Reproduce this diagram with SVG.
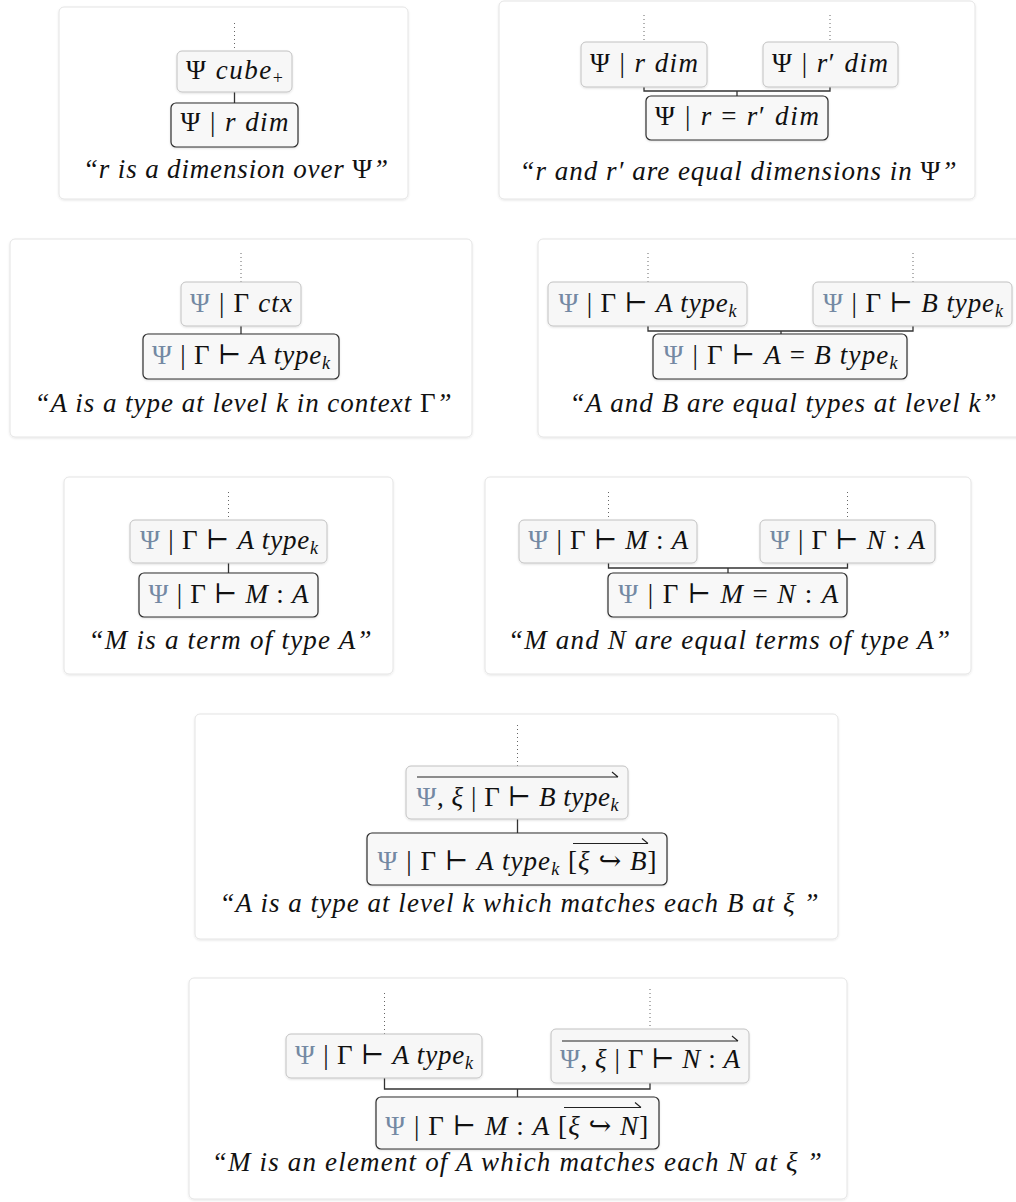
<svg xmlns="http://www.w3.org/2000/svg" width="1016" height="1202" viewBox="0 0 1016 1202">
<defs>
<filter id="sh" x="-10%" y="-10%" width="120%" height="120%">
<feDropShadow dx="0" dy="1" stdDeviation="1.2" flood-color="#000" flood-opacity="0.10"/>
</filter>
<filter id="nsh" x="-10%" y="-10%" width="120%" height="130%">
<feDropShadow dx="0" dy="1" stdDeviation="0.8" flood-color="#000" flood-opacity="0.12"/>
</filter>
</defs>
<style>
.panel{fill:#ffffff;stroke:#e4e4e4;stroke-width:1;filter:url(#sh)}
.prem{fill:#f7f7f7;stroke:#c2c2c2;stroke-width:1;filter:url(#nsh)}
.concl{fill:#f8f8f8;stroke:#2e2e2e;stroke-width:1.2;filter:url(#nsh)}
.conn{fill:none;stroke:#333;stroke-width:1.3}
.dot{fill:none;stroke:#666;stroke-width:1;stroke-dasharray:1 3}
.ovl{fill:none;stroke:#222;stroke-width:1.1}
.t{font-family:"Liberation Serif","DejaVu Serif",serif;font-size:27px;fill:#111;text-anchor:middle}
.i{font-style:italic}
.psi{fill:#7489a3;font-style:normal}
.up{font-style:normal}
.sub{font-size:18px}
</style>

<g id="panels">
<rect class="panel" x="59" y="7" width="349" height="192" rx="5"/>
<rect class="panel" x="499" y="1" width="476" height="198" rx="5"/>
<rect class="panel" x="10" y="239" width="462" height="198" rx="5"/>
<rect class="panel" x="538" y="239" width="500" height="198" rx="5"/>
<rect class="panel" x="64" y="477" width="329" height="197" rx="5"/>
<rect class="panel" x="485" y="477" width="486" height="197" rx="5"/>
<rect class="panel" x="195" y="714" width="643" height="225" rx="5"/>
<rect class="panel" x="189" y="978" width="658" height="221" rx="5"/>
</g>

<g id="connectors">
<path class="dot" d="M234.5 23V51"/>
<path class="conn" d="M234.5 92V103"/>
<path class="dot" d="M644 15V42M830 15V42"/>
<path class="conn" d="M644 87V91H830V87M737 91V96"/>
<path class="dot" d="M241 253V282"/>
<path class="conn" d="M241 326V334"/>
<path class="dot" d="M648 253V282M913 253V282"/>
<path class="conn" d="M648 326V331H913V326M781 331V334"/>
<path class="dot" d="M228.5 492V520"/>
<path class="conn" d="M228.5 563V573"/>
<path class="dot" d="M608.5 492V520M847.5 492V520"/>
<path class="conn" d="M608.5 563V568H847.5V563M728 568V573"/>
<path class="dot" d="M517.5 725V766"/>
<path class="conn" d="M517.5 819V833"/>
<path class="dot" d="M384.5 993V1034M650 989V1029"/>
<path class="conn" d="M384.5 1078V1089H650V1083M517.5 1089V1097"/>
</g>

<g id="n1a"><rect class="prem" x="177" y="51" width="115" height="41" rx="5"/>
<text class="t" x="234.5" y="79" textLength="97" lengthAdjust="spacing">Ψ <tspan class="i">cube</tspan><tspan class="sub" dy="5">+</tspan></text></g>
<g id="n1b"><rect class="concl" x="171" y="103" width="127" height="44" rx="5"/>
<text class="t" x="234.5" y="131" textLength="108" lengthAdjust="spacing">Ψ | <tspan class="i">r dim</tspan></text></g>
<g id="c1"><text class="t i" x="235.5" y="178" textLength="305" lengthAdjust="spacing">“r is a dimension over <tspan class="up">Ψ</tspan>”</text></g>

<g id="n2a"><rect class="prem" x="581" y="42" width="126" height="45" rx="5"/>
<text class="t" x="644" y="72" textLength="108" lengthAdjust="spacing">Ψ | <tspan class="i">r dim</tspan></text></g>
<g id="n2b"><rect class="prem" x="763" y="42" width="135" height="45" rx="5"/>
<text class="t" x="830" y="72" textLength="116" lengthAdjust="spacing">Ψ | <tspan class="i">r</tspan>′ <tspan class="i">dim</tspan></text></g>
<g id="n2c"><rect class="concl" x="646" y="96" width="182" height="44" rx="5"/>
<text class="t" x="737" y="125" textLength="164" lengthAdjust="spacing">Ψ | <tspan class="i">r</tspan> = <tspan class="i">r</tspan>′ <tspan class="i">dim</tspan></text></g>
<g id="c2"><text class="t i" x="738" y="180" textLength="437" lengthAdjust="spacing">“r and r′ are equal dimensions in <tspan class="up">Ψ</tspan>”</text></g>

<g id="n3a"><rect class="prem" x="181" y="282" width="120" height="44" rx="5"/>
<text class="t" x="241" y="312" textLength="102" lengthAdjust="spacing"><tspan class="psi">Ψ</tspan> | Γ <tspan class="i">ctx</tspan></text></g>
<g id="n3b"><rect class="concl" x="143" y="334" width="196" height="45" rx="5"/>
<text class="t" x="241" y="364" textLength="178" lengthAdjust="spacing"><tspan class="psi">Ψ</tspan> | Γ ⊢ <tspan class="i">A type</tspan><tspan class="i sub" dy="5">k</tspan></text></g>
<g id="c3"><text class="t i" x="243" y="412" textLength="417" lengthAdjust="spacing">“A is a type at level k in context <tspan class="up">Γ</tspan>”</text></g>

<g id="n4a"><rect class="prem" x="548" y="282" width="199" height="44" rx="5"/>
<text class="t" x="647.5" y="312" textLength="178" lengthAdjust="spacing"><tspan class="psi">Ψ</tspan> | Γ ⊢ <tspan class="i">A type</tspan><tspan class="i sub" dy="5">k</tspan></text></g>
<g id="n4b"><rect class="prem" x="813" y="282" width="199" height="44" rx="5"/>
<text class="t" x="913" y="312" textLength="180" lengthAdjust="spacing"><tspan class="psi">Ψ</tspan> | Γ ⊢ <tspan class="i">B type</tspan><tspan class="i sub" dy="5">k</tspan></text></g>
<g id="n4c"><rect class="concl" x="653" y="334" width="254" height="45" rx="5"/>
<text class="t" x="780.5" y="364" textLength="234" lengthAdjust="spacing"><tspan class="psi">Ψ</tspan> | Γ ⊢ <tspan class="i">A</tspan> = <tspan class="i">B type</tspan><tspan class="i sub" dy="5">k</tspan></text></g>
<g id="c4"><text class="t i" x="783" y="412" textLength="427" lengthAdjust="spacing">“A and B are equal types at level k”</text></g>

<g id="n5a"><rect class="prem" x="130" y="520" width="197" height="43" rx="5"/>
<text class="t" x="229" y="549" textLength="178" lengthAdjust="spacing"><tspan class="psi">Ψ</tspan> | Γ ⊢ <tspan class="i">A type</tspan><tspan class="i sub" dy="5">k</tspan></text></g>
<g id="n5b"><rect class="concl" x="139" y="573" width="179" height="44" rx="5"/>
<text class="t" x="228.5" y="603" textLength="160" lengthAdjust="spacing"><tspan class="psi">Ψ</tspan> | Γ ⊢ <tspan class="i">M</tspan> : <tspan class="i">A</tspan></text></g>
<g id="c5"><text class="t i" x="230" y="649" textLength="283" lengthAdjust="spacing">“M is a term of type A”</text></g>

<g id="n6a"><rect class="prem" x="519" y="520" width="178" height="43" rx="5"/>
<text class="t" x="608.3" y="549" textLength="160" lengthAdjust="spacing"><tspan class="psi">Ψ</tspan> | Γ ⊢ <tspan class="i">M</tspan> : <tspan class="i">A</tspan></text></g>
<g id="n6b"><rect class="prem" x="760" y="520" width="175" height="43" rx="5"/>
<text class="t" x="847.5" y="549" textLength="155" lengthAdjust="spacing"><tspan class="psi">Ψ</tspan> | Γ ⊢ <tspan class="i">N</tspan> : <tspan class="i">A</tspan></text></g>
<g id="n6c"><rect class="concl" x="608" y="573" width="239" height="44" rx="5"/>
<text class="t" x="728.3" y="603" textLength="220" lengthAdjust="spacing"><tspan class="psi">Ψ</tspan> | Γ ⊢ <tspan class="i">M</tspan> = <tspan class="i">N</tspan> : <tspan class="i">A</tspan></text></g>
<g id="c6"><text class="t i" x="729" y="649" textLength="442" lengthAdjust="spacing">“M and N are equal terms of type A”</text></g>

<g id="n7a"><rect class="prem" x="406" y="766" width="222" height="53" rx="5"/>
<path class="ovl" d="M417 777H618M612 772L618 777"/>
<text class="t" x="517.5" y="806" textLength="202" lengthAdjust="spacing"><tspan class="psi">Ψ</tspan>, <tspan class="i">ξ</tspan> | Γ ⊢ <tspan class="i">B type</tspan><tspan class="i sub" dy="5">k</tspan></text></g>
<g id="n7b"><rect class="concl" x="367" y="833" width="300" height="52" rx="5"/>
<path class="ovl" d="M573 843.5H648M642 838.5L648 843.5"/>
<text class="t" x="517" y="870" textLength="279" lengthAdjust="spacing"><tspan class="psi">Ψ</tspan> | Γ ⊢ <tspan class="i">A type</tspan><tspan class="i sub" dy="5">k</tspan><tspan dy="-5"> [</tspan><tspan class="i">ξ</tspan> ↪ <tspan class="i">B</tspan>]</text></g>
<g id="c7"><text class="t i" x="519" y="912" textLength="599" lengthAdjust="spacing">“A is a type at level k which matches each B at ξ ”</text></g>

<g id="n8a"><rect class="prem" x="286" y="1034" width="196" height="44" rx="5"/>
<text class="t" x="384" y="1064" textLength="178" lengthAdjust="spacing"><tspan class="psi">Ψ</tspan> | Γ ⊢ <tspan class="i">A type</tspan><tspan class="i sub" dy="5">k</tspan></text></g>
<g id="n8b"><rect class="prem" x="551" y="1029" width="198" height="54" rx="5"/>
<path class="ovl" d="M562 1041H738M732 1036L738 1041"/>
<text class="t" x="650" y="1068" textLength="180" lengthAdjust="spacing"><tspan class="psi">Ψ</tspan>, <tspan class="i">ξ</tspan> | Γ ⊢ <tspan class="i">N</tspan> : <tspan class="i">A</tspan></text></g>
<g id="n8c"><rect class="concl" x="376" y="1097" width="283" height="52" rx="5"/>
<path class="ovl" d="M564 1107.5H641M635 1102.5L641 1107.5"/>
<text class="t" x="516.7" y="1135" textLength="263" lengthAdjust="spacing"><tspan class="psi">Ψ</tspan> | Γ ⊢ <tspan class="i">M</tspan> : <tspan class="i">A</tspan> [<tspan class="i">ξ</tspan> ↪ <tspan class="i">N</tspan>]</text></g>
<g id="c8"><text class="t i" x="516.7" y="1171" textLength="610" lengthAdjust="spacing">“M is an element of A which matches each N at ξ ”</text></g>
</svg>
